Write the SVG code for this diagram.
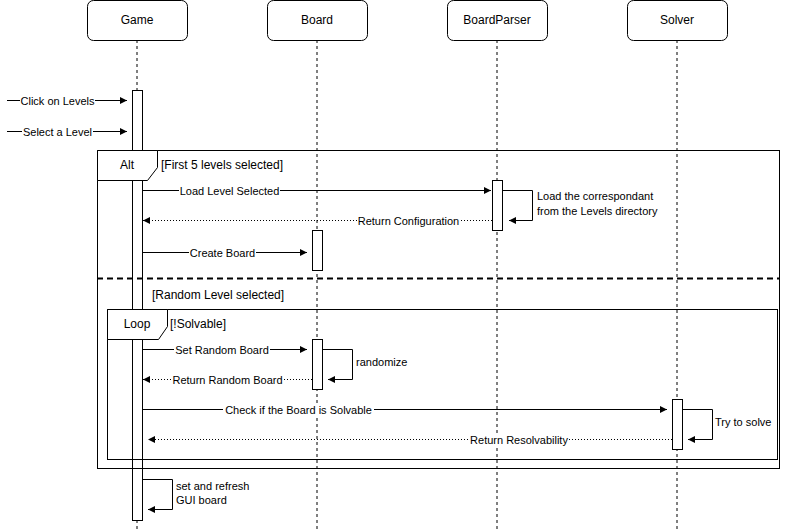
<svg xmlns="http://www.w3.org/2000/svg" width="790" height="531" viewBox="0 0 790 531">
<style>
.hdr{fill:#fff;stroke:#000;stroke-width:1}
.hdrt{font-family:"Liberation Sans",Arial,sans-serif;font-size:12px;fill:#000;text-anchor:middle}
.life{stroke:#000;stroke-width:1;stroke-dasharray:3 3;fill:none}
.act{fill:#fff;stroke:#000;stroke-width:1}
.msg{stroke:#000;stroke-width:1;fill:none}
.ret{stroke:#000;stroke-width:1;fill:none;stroke-dasharray:1 2}
.lbl{font-family:"Liberation Sans",Arial,sans-serif;font-size:11px;fill:#000;text-anchor:middle}
.txt{font-family:"Liberation Sans",Arial,sans-serif;font-size:11px;fill:#000}
.ftxt{font-family:"Liberation Sans",Arial,sans-serif;font-size:12px;fill:#000}
.frame{fill:none;stroke:#000;stroke-width:1}
.tab{fill:#fff;stroke:#000;stroke-width:1}
.bg{fill:#fff}
</style>
<defs>
<marker id="arr" markerUnits="userSpaceOnUse" markerWidth="8" markerHeight="8" refX="7" refY="3.5" orient="auto">
<path d="M0,0 L7,3.5 L0,7 Z" fill="#000"/>
</marker>
</defs>

<g id="lifelines">
<line class="life" x1="137" y1="40" x2="137" y2="531"/>
<line class="life" x1="317" y1="40" x2="317" y2="531"/>
<line class="life" x1="497" y1="40" x2="497" y2="531"/>
<line class="life" x1="677" y1="40" x2="677" y2="531"/>
</g>

<g id="node-game"><rect class="hdr" x="87.5" y="0.5" width="100" height="40" rx="6"/><text class="hdrt" x="137" y="24">Game</text></g>
<g id="node-board"><rect class="hdr" x="267.5" y="0.5" width="100" height="40" rx="6"/><text class="hdrt" x="317" y="24">Board</text></g>
<g id="node-boardparser"><rect class="hdr" x="447.5" y="0.5" width="100" height="40" rx="6"/><text class="hdrt" x="497" y="24">BoardParser</text></g>
<g id="node-solver"><rect class="hdr" x="627.5" y="0.5" width="100" height="40" rx="6"/><text class="hdrt" x="677" y="24">Solver</text></g>

<g id="activations">
<rect class="act" x="132.5" y="90.5" width="10" height="430"/>
<rect class="act" x="492.5" y="180.5" width="10" height="50"/>
<rect class="act" x="312.5" y="230.5" width="10" height="40"/>
<rect class="act" x="312.5" y="339.5" width="10" height="50"/>
<rect class="act" x="672.5" y="399.5" width="10" height="50"/>
</g>

<g id="frame-alt">
<rect class="frame" x="97.5" y="150.5" width="682" height="318"/>
<path class="tab" d="M97.5,150.5 L157.5,150.5 L157.5,167.5 L147.5,180.5 L97.5,180.5 Z"/>
<text class="ftxt" x="127" y="169" text-anchor="middle">Alt</text>
<text class="ftxt" x="161" y="169">[First 5 levels selected]</text>
<line x1="97" y1="278.5" x2="779" y2="278.5" stroke="#000" stroke-width="2" stroke-dasharray="6 4"/>
<text class="ftxt" x="152" y="299">[Random Level selected]</text>
</g>

<g id="frame-loop">
<rect class="frame" x="107.5" y="309.5" width="670" height="150"/>
<path class="tab" d="M107.5,309.5 L167.5,309.5 L167.5,326.5 L158.5,339.5 L107.5,339.5 Z"/>
<text class="ftxt" x="137" y="328" text-anchor="middle">Loop</text>
<text class="ftxt" x="170" y="328">[!Solvable]</text>
</g>

<g id="connectors">
<line class="msg" x1="7" y1="100.5" x2="127" y2="100.5" marker-end="url(#arr)"/>
<rect class="bg" x="20" y="94" width="75" height="13"/>
<text class="lbl" x="57.5" y="104.5">Click on Levels</text>

<line class="msg" x1="7" y1="131.5" x2="127" y2="131.5" marker-end="url(#arr)"/>
<rect class="bg" x="22" y="125" width="71" height="13"/>
<text class="lbl" x="57.5" y="135.5">Select a Level</text>

<line class="msg" x1="142" y1="190.5" x2="491" y2="190.5" marker-end="url(#arr)"/>
<rect class="bg" x="179" y="184" width="101" height="13"/>
<text class="lbl" x="229.5" y="194.5">Load Level Selected</text>

<path class="msg" d="M502,190.5 L532.5,190.5 L532.5,220.5 L509,220.5" marker-end="url(#arr)"/>
<text class="txt" x="537" y="200">Load the correspondant</text>
<text class="txt" x="537" y="215">from the Levels directory</text>

<line class="ret" x1="492" y1="220.5" x2="143" y2="220.5" marker-end="url(#arr)"/>
<rect class="bg" x="357" y="214" width="103" height="13"/>
<text class="lbl" x="408.5" y="224.5">Return Configuration</text>

<line class="msg" x1="142" y1="252.5" x2="307" y2="252.5" marker-end="url(#arr)"/>
<rect class="bg" x="189" y="246" width="67" height="13"/>
<text class="lbl" x="222.5" y="256.5">Create Board</text>

<line class="msg" x1="142" y1="349.5" x2="307" y2="349.5" marker-end="url(#arr)"/>
<rect class="bg" x="174" y="343" width="96" height="13"/>
<text class="lbl" x="222" y="353.5">Set Random Board</text>

<path class="msg" d="M322,349.5 L352.5,349.5 L352.5,379.5 L328,379.5" marker-end="url(#arr)"/>
<text class="txt" x="356" y="366">randomize</text>

<line class="ret" x1="312" y1="379.5" x2="143" y2="379.5" marker-end="url(#arr)"/>
<rect class="bg" x="171" y="373" width="113" height="13"/>
<text class="lbl" x="227.5" y="383.5">Return Random Board</text>

<line class="msg" x1="142" y1="409.5" x2="667" y2="409.5" marker-end="url(#arr)"/>
<rect class="bg" x="223" y="403" width="151" height="13"/>
<text class="lbl" x="298.5" y="413.5">Check if the Board is Solvable</text>

<path class="msg" d="M682,409.5 L712.5,409.5 L712.5,439.5 L688,439.5" marker-end="url(#arr)"/>
<text class="txt" x="715" y="426">Try to solve</text>

<line class="ret" x1="672" y1="439.5" x2="148" y2="439.5" marker-end="url(#arr)"/>
<rect class="bg" x="469" y="433" width="100" height="13"/>
<text class="lbl" x="519" y="443.5">Return Resolvability</text>

<path class="msg" d="M142,479.5 L172.5,479.5 L172.5,509.5 L148,509.5" marker-end="url(#arr)"/>
<text class="txt" x="176" y="490">set and refresh</text>
<text class="txt" x="176" y="504">GUI board</text>
</g>
</svg>
